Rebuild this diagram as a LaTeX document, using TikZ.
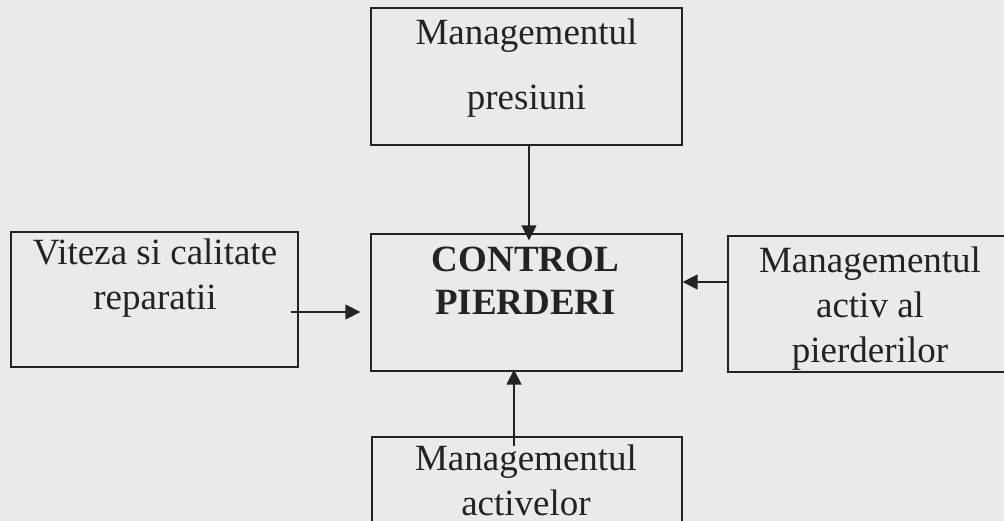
\documentclass[tikz,border=0pt]{standalone}
\usepackage{fontspec}
\setmainfont{Liberation Serif}
\usetikzlibrary{arrows.meta,calc}
\definecolor{bg}{RGB}{234,234,234}
\definecolor{ink}{RGB}{35,35,35}
\begin{document}
\begin{tikzpicture}[x=1pt,y=-1pt,
  box/.style={draw=ink,line width=1.3pt,rectangle,inner sep=0pt},
  lbl/.style={anchor=base,inner sep=0pt,text=ink,font=\fontsize{37}{40}\selectfont},
  bold/.style={lbl,font=\fontsize{37}{40}\selectfont\bfseries},
  arr/.style={draw=ink,line width=1.5pt,-{Triangle[length=15pt,width=15pt]}}]
\clip (0,0) rectangle (1004,521);
\fill[bg] (0,0) rectangle (1004,521);
% boxes
\node[box,minimum width=311pt,minimum height=137pt] (top) at (526.5,76.5) {};
\node[box,minimum width=287pt,minimum height=135pt] (L) at (154.5,299.5) {};
\node[box,minimum width=311pt,minimum height=137pt] (ctr) at (526.5,302.5) {};
\node[box,minimum width=284pt,minimum height=136pt] (R) at (870,304) {};
\node[box,minimum width=310pt,minimum height=100pt] (bot) at (527,487) {};
% texts
\node[lbl] (t1) at (526.5,45) {Managementul};
\node[lbl] (t2) at (526.5,110) {presiuni};
\node[lbl] (l1) at (155,265) {Viteza si calitate};
\node[lbl] (l2) at (155,310) {reparatii};
\node[bold] (c1) at (525.5,272) {CONTROL};
\node[bold] (c2) at (525.5,315) {PIERDERI};
\node[lbl] (r1) at (870,273) {Managementul};
\node[lbl] (r2) at (870,318) {activ al};
\node[lbl] (r3) at (870,362) {pierderilor};
\node[lbl] (b1) at (526,470) {Managementul};
\node[lbl] (b2) at (526,515) {activelor};
% arrow end points
\coordinate (tA) at ($(top.south)+(2.5,0)$);
\coordinate (tB) at ($(ctr.north)+(2.5,7)$);
\coordinate (lA) at ($(L.east)+(-8,12.5)$);
\coordinate (lB) at ($(ctr.west)+(-10,9.5)$);
\coordinate (rA) at ($(R.west)+(1,-22)$);
\coordinate (rB) at ($(ctr.east)+(0,-20.5)$);
\coordinate (bA) at ($(bot.north)+(-13,10)$);
\coordinate (bB) at ($(ctr.south)+(-12.5,-2)$);
% connectors
\draw[arr] (tA) -- (tB);
\draw[arr] (lA) -- (lB);
\draw[arr] (rA) -- (rB);
\draw[arr] (bA) -- (bB);
\end{tikzpicture}
\end{document}
